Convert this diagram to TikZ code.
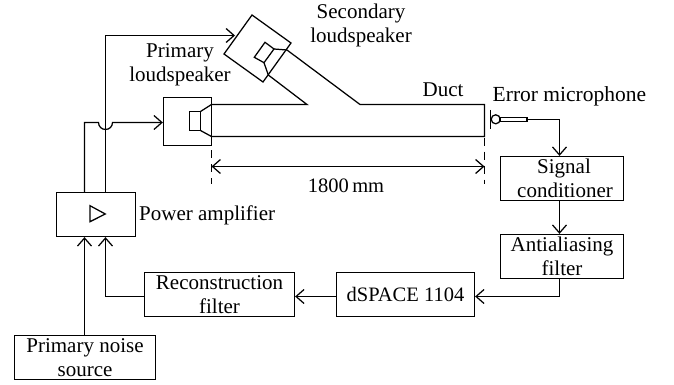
\documentclass[tikz,border=0pt]{standalone}
\usepackage{fontspec}
\setmainfont{Liberation Serif}
\usetikzlibrary{arrows.meta}
\tikzset{
  x=1pt,y=-1pt,
  ln/.style={line width=1.25pt,line join=miter},
  arr/.style={ln,-{Straight Barb[length=8pt,width=14pt,line width=1.25pt]}},
  box/.style={draw,line width=1.25pt,inner sep=0pt,align=center,font=\fontsize{21}{24}\selectfont},
  lab/.style={inner sep=0pt,align=center,font=\fontsize{21}{24}\selectfont},
  dashline/.style={line width=1.25pt,dash pattern=on 8pt off 6pt}
}
\newcommand{\boxat}[6]{\node[box,minimum width=#3pt,minimum height=#4pt] (#5) at (#1,#2) {#6};}
\begin{document}
\begin{tikzpicture}
\useasboundingbox (0,0) rectangle (674,385);
\fill[white] (0,0) rectangle (674,385);
% boxes
\boxat{96}{214.5}{79}{44}{amp}{}
\boxat{187.5}{121.5}{48}{48}{pbox}{}
\boxat{562}{178.5}{123}{44}{sig}{\hspace*{4pt}Signal\\\hspace*{6pt}conditioner}
\boxat{562}{256.5}{123}{44}{anti}{Antialiasing\\filter}
\boxat{405.5}{294.5}{138}{44}{dsp}{\fontsize{20.5}{24}\selectfont dSPACE 1104}
\boxat{219.5}{294.5}{150}{44}{rec}{Reconstruction\\filter}
\boxat{85}{357.5}{141}{44}{noise}{Primary noise\\source}
% labels
\node[lab] (lsec) at (361,25) {Secondary\\loudspeaker};
\node[lab] (lpri) at (180,64.5) {Primary\\loudspeaker};
\node[lab] (lduct) at (443,90) {Duct};
\node[lab,anchor=west,font=\fontsize{21.5}{24}\selectfont] (lerr) at (492.5,96) {Error microphone};
\node[lab,anchor=west] (lamp) at (139,215) {Power amplifier};
\node[lab,font=\fontsize{20.5}{24}\selectfont] (ldim) at (346,186) {1800\,mm};
% amplifier triangle
\draw[ln] (90,205.7) -- (105.3,214) -- (90,221.7) -- cycle;
% primary speaker
\draw[ln] (189.5,111.5) rectangle (200.5,130.5);
\draw[ln] (200.5,111.5) -- (211.5,104.5) (200.5,130.5) -- (211.5,136.5);
% secondary box and speaker
\coordinate (s1) at (252,15);
\coordinate (s2) at (291,43);
\coordinate (s3) at (263,82);
\coordinate (s4) at (224,54);
\draw[ln] (s1) -- (s2) -- (s3) -- (s4) -- cycle;
\draw[ln] (265,42.3) -- (274,49) -- (264,62.7) -- (254.3,57.3) -- cycle;
\draw[ln] (274,49) -- (287,50) (264,62.7) -- (268.3,75);
% duct
\draw[ln] (211.5,104.5) -- (307,104.5) -- (268.3,75);
\draw[ln] (287,50) -- (360,104.5) -- (484.5,104.5) -- (484.5,136.5) -- (211.5,136.5);
% dimension
\draw[dashline] (211.5,150) -- (211.5,184);
\draw[dashline] (484.5,137.5) -- (484.5,184);
\coordinate (d1) at (211.5,166.5);
\coordinate (d2) at (484.5,166.5);
\draw[arr] (d1) -- (d2);
\draw[arr] (d2) -- (d1);
% microphone
\draw[ln] (490.7,110) -- (490.7,129);
\draw[ln] (495.7,119.3) circle (4.5);
\draw[ln] (500,117.3) rectangle (527,121.7);
\coordinate (mic) at (527,119.5);
\coordinate (yd) at (0,296.5);
\coordinate (yp) at (0,122.5);
\coordinate (xa) at (84.5,0);
\coordinate (xb) at (105.5,0);
\coordinate (xc) at (559.5,0);
% connectors
\draw[arr] (mic) -| (sig.north -| xc);
\draw[arr] (sig.south -| xc) -- (anti.north -| xc);
\draw[arr] (anti.south -| xc) |- (dsp.east |- yd);
\draw[arr] (dsp.west |- yd) -- (rec.east |- yd);
\draw[arr] (rec.west |- yd) -| (amp.south -| xb);
\draw[arr] (noise.north -| xa) -- (amp.south -| xa);
\coordinate (top) at (235,35.5);
\draw[arr] (amp.north -| xb) |- (top);
\draw[arr] (amp.north -| xa) |- (98.5,122.5) arc[start angle=180,end angle=0,radius=7] -- (pbox.west |- yp);
\end{tikzpicture}
\end{document}
